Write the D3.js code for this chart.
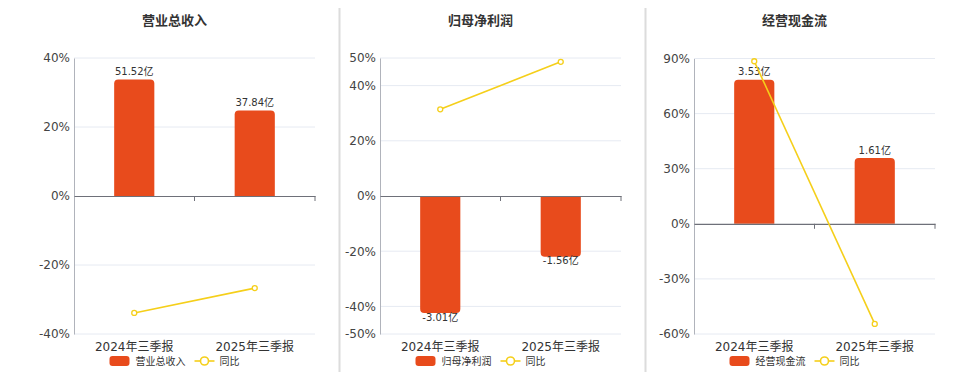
<!DOCTYPE html>
<html>
<head>
<meta charset="utf-8">
<script src="https://cdn.jsdelivr.net/npm/d3@7.9.0/dist/d3.min.js"></script>
<style>
  html, body { margin: 0; padding: 0; background: #fff; }
  svg { display: block; font-family: "DejaVu Sans", "Noto Sans CJK SC", sans-serif; }
</style>
</head>
<body>
<div id="chart"></div>
<script>
// ---- data ----
const categories = ['2024年三季报', '2025年三季报'];
const titles = ['营业总收入', '归母净利润', '经营现金流'];
const barValues = [[51.52, 37.84], [-3.01, -1.56], [3.53, 1.61]];
const barLabels = [['51.52亿', '37.84亿'], ['-3.01亿', '-1.56亿'], ['3.53亿', '1.61亿']];
const yoyValues = [[-33.9, -26.7], [31.4, 48.6], [88.5, -54.5]];
const pctTicks = [[40, 20, 0, -20, -40], [50, 40, 20, 0, -20, -40, -50], [90, 60, 30, 0, -30, -60]];
const pctDomains = [[-40, 40], [-50, 50], [-60, 90]];
const barDomains = [[-61, 61], [-3.55, 3.55], [-2.7, 4.05]];

const W = 960, H = 372;
const BAR = '#e84b1c', LINE = '#f5cf1a';

// plot areas for the three panels
const plots = [
  { left: 74, right: 315, top: 58, bottom: 334 },
  { left: 380, right: 621, top: 58, bottom: 334 },
  { left: 694, right: 935, top: 58.5, bottom: 334 }
];
const separators = [339.5, 645.5];

const svg = d3.select('#chart').append('svg')
  .attr('width', W).attr('height', H);

separators.forEach(x => {
  svg.append('line')
    .attr('x1', x).attr('x2', x).attr('y1', 8).attr('y2', H)
    .attr('stroke', '#dcdcdc').attr('stroke-width', 2);
});

// rounded-end bar path (rounded on the far side from zero)
function barPath(x, w, y0, y1, r) {
  const up = y1 < y0;
  const h = Math.abs(y1 - y0);
  r = Math.min(r, h, w / 2);
  if (up) {
    return `M${x},${y0}V${y1 + r}Q${x},${y1} ${x + r},${y1}H${x + w - r}Q${x + w},${y1} ${x + w},${y1 + r}V${y0}Z`;
  }
  return `M${x},${y0}V${y1 - r}Q${x},${y1} ${x + r},${y1}H${x + w - r}Q${x + w},${y1} ${x + w},${y1 - r}V${y0}Z`;
}

plots.forEach((p, i) => {
  const g = svg.append('g');
  const cx = (p.left + p.right) / 2 - 20;

  const x = d3.scaleBand().domain(categories).range([p.left, p.right]);
  const y = d3.scaleLinear().domain(pctDomains[i]).range([p.bottom, p.top]);
  const yBar = d3.scaleLinear().domain(barDomains[i]).range([p.bottom, p.top]);
  const zeroY = y(0);

  // title
  g.append('text')
    .attr('x', cx).attr('y', 20)
    .attr('text-anchor', 'middle').attr('dominant-baseline', 'central')
    .attr('font-size', 13).attr('font-weight', 'bold').attr('fill', '#333')
    .text(titles[i]);

  // grid lines
  g.append('g').selectAll('line')
    .data(pctTicks[i].filter(t => t !== 0))
    .join('line')
    .attr('x1', p.left).attr('x2', p.right)
    .attr('y1', d => y(d)).attr('y2', d => y(d))
    .attr('stroke', '#e6eaf2').attr('stroke-width', 1);

  // y axis
  const yAxis = d3.axisLeft(y)
    .tickValues(pctTicks[i])
    .tickSize(0).tickPadding(4)
    .tickFormat(d => d + '%');
  const ya = g.append('g').attr('transform', `translate(${p.left},0)`).call(yAxis);
  ya.select('.domain').attr('stroke', '#b0b3bb');
  ya.selectAll('text').attr('font-size', 12).attr('fill', '#444')
    .attr('font-family', '"DejaVu Sans", sans-serif');

  // bars
  const bw = x.bandwidth() / 3;
  g.append('g').selectAll('path')
    .data(barValues[i])
    .join('path')
    .attr('d', (d, j) => barPath(x(categories[j]) + (x.bandwidth() - bw) / 2, bw, yBar(0), yBar(d), 4))
    .attr('fill', BAR);

  // bar labels
  g.append('g').selectAll('text')
    .data(barValues[i])
    .join('text')
    .attr('x', (d, j) => x(categories[j]) + x.bandwidth() / 2)
    .attr('y', d => d >= 0 ? yBar(d) - 8 : yBar(d) + 4)
    .attr('text-anchor', 'middle').attr('dominant-baseline', 'central')
    .attr('font-size', 10).attr('fill', '#333')
    .text((d, j) => barLabels[i][j]);

  // x axis at zero
  const xAxis = d3.axisBottom(x).tickSize(0).tickFormat('');
  const xa = g.append('g').attr('transform', `translate(0,${zeroY})`).call(xAxis);
  xa.select('.domain').attr('stroke', '#6e7079').attr('stroke-width', 1.2);
  xa.selectAll('.tick').remove();
  g.append('g').selectAll('line')
    .data([x.range()[0] + x.bandwidth(), x.range()[1]])
    .join('line')
    .attr('x1', d => d).attr('x2', d => d)
    .attr('y1', zeroY).attr('y2', zeroY + 5)
    .attr('stroke', '#6e7079');

  // category labels at the bottom
  g.append('g').selectAll('text')
    .data(categories)
    .join('text')
    .attr('x', d => x(d) + x.bandwidth() / 2)
    .attr('y', 347)
    .attr('text-anchor', 'middle').attr('dominant-baseline', 'central')
    .attr('font-size', 12).attr('fill', '#333')
    .text(d => d);

  // yoy line
  const line = d3.line()
    .x((d, j) => x(categories[j]) + x.bandwidth() / 2)
    .y(d => y(d));
  g.append('path')
    .datum(yoyValues[i])
    .attr('d', line)
    .attr('fill', 'none').attr('stroke', LINE).attr('stroke-width', 1.6);
  g.append('g').selectAll('circle')
    .data(yoyValues[i])
    .join('circle')
    .attr('cx', (d, j) => x(categories[j]) + x.bandwidth() / 2)
    .attr('cy', d => y(d))
    .attr('r', 2.5)
    .attr('fill', '#fff').attr('stroke', LINE).attr('stroke-width', 1.3);

  // legend
  const lg = g.append('g');
  const ly = 361;
  lg.append('rect').attr('x', 0).attr('y', ly - 5).attr('width', 20).attr('height', 10)
    .attr('rx', 3).attr('fill', BAR);
  const t1 = lg.append('text').attr('x', 26).attr('y', ly)
    .attr('dominant-baseline', 'central').attr('font-size', 10).attr('fill', '#333')
    .text(titles[i]);
  const x2 = 26 + t1.node().getComputedTextLength() + 9;
  lg.append('line').attr('x1', x2).attr('x2', x2 + 20).attr('y1', ly).attr('y2', ly)
    .attr('stroke', LINE).attr('stroke-width', 1.6);
  lg.append('circle').attr('cx', x2 + 10).attr('cy', ly).attr('r', 4)
    .attr('fill', '#fff').attr('stroke', LINE).attr('stroke-width', 1.6);
  const t2 = lg.append('text').attr('x', x2 + 25).attr('y', ly)
    .attr('dominant-baseline', 'central').attr('font-size', 10).attr('fill', '#333')
    .text('同比');
  const total = x2 + 25 + t2.node().getComputedTextLength();
  lg.attr('transform', `translate(${cx - total / 2},0)`);
});
</script>
</body>
</html>
